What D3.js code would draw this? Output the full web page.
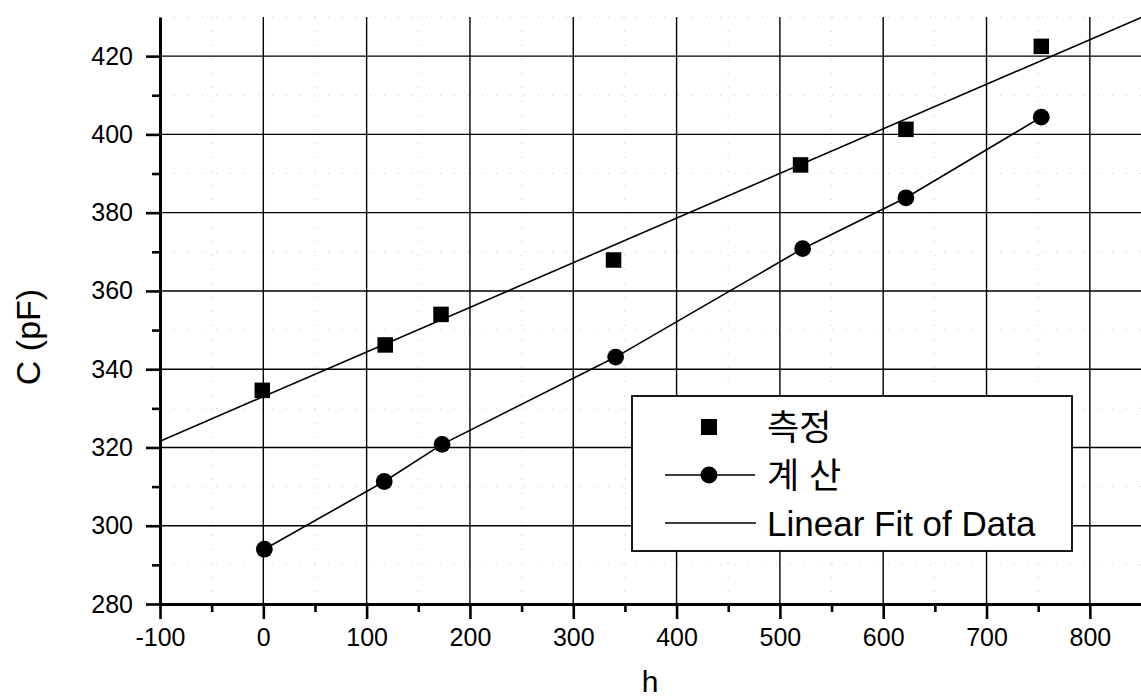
<!DOCTYPE html>
<html>
<head>
<meta charset="utf-8">
<script src="https://cdn.jsdelivr.net/npm/d3@7"></script>
<style>
  body { margin: 0; background: #fff; }
  svg text { font-family: "Liberation Sans", Arial, "Noto Sans CJK KR", sans-serif; fill: #000; }
</style>
</head>
<body>
<div id="chart"></div>
<script>
// Measured capacitance (측정)
const measuredH = [-1, 118, 172, 339, 520, 622, 753];
const measuredC = [334.6, 346.2, 354.0, 367.9, 392.2, 401.3, 422.5];

// Calculated capacitance (계산)
const calcH = [1, 117, 173, 341, 522, 622, 753];
const calcC = [294.0, 311.3, 320.8, 343.1, 370.8, 383.8, 404.4];

// Axis ticks
const xTicks = [-100, 0, 100, 200, 300, 400, 500, 600, 700, 800];
const xMinorTicks = [-50, 50, 150, 250, 350, 450, 550, 650, 750];
const yTicks = [280, 300, 320, 340, 360, 380, 400, 420];
const yMinorTicks = [290, 310, 330, 350, 370, 390, 410, 430];

const legendLabels = ["측정", "계 산", "Linear Fit of Data"];

const width = 1141;
const height = 700;

const svg = d3
  .select("#chart")
  .append("svg")
  .attr("width", width)
  .attr("height", height);

// Scales
const x = d3.scaleLinear().domain([-100, 850]).range([160, 1141.5]);
const y = d3.scaleLinear().domain([280, 430]).range([604, 17]);

// Faint dotted minor grid
svg
  .append("g")
  .selectAll("line")
  .data(xMinorTicks)
  .enter()
  .append("line")
  .attr("x1", (d) => x(d))
  .attr("x2", (d) => x(d))
  .attr("y1", y(430))
  .attr("y2", y(280))
  .attr("stroke", "#ccc")
  .attr("stroke-dasharray", "1,13");

svg
  .append("g")
  .selectAll("line")
  .data(yMinorTicks)
  .enter()
  .append("line")
  .attr("x1", x(-100))
  .attr("x2", x(850))
  .attr("y1", (d) => y(d))
  .attr("y2", (d) => y(d))
  .attr("stroke", "#ccc")
  .attr("stroke-dasharray", "1,13");

// Major grid
svg
  .append("g")
  .selectAll("line")
  .data(xTicks.slice(1))
  .enter()
  .append("line")
  .attr("x1", (d) => x(d))
  .attr("x2", (d) => x(d))
  .attr("y1", y(430))
  .attr("y2", y(280))
  .attr("stroke", "#000")
  .attr("stroke-width", 1.4);

svg
  .append("g")
  .selectAll("line")
  .data(yTicks.slice(1))
  .enter()
  .append("line")
  .attr("x1", x(-100))
  .attr("x2", x(850))
  .attr("y1", (d) => y(d))
  .attr("y2", (d) => y(d))
  .attr("stroke", "#000")
  .attr("stroke-width", 1.4);

// Least squares fit of measured data
function linearFit(xs, ys) {
  const mx = d3.mean(xs);
  const my = d3.mean(ys);
  let sxy = 0;
  let sxx = 0;
  xs.forEach((v, i) => {
    sxy += (v - mx) * (ys[i] - my);
    sxx += (v - mx) * (v - mx);
  });
  const slope = sxy / sxx;
  return { slope: slope, intercept: my - slope * mx };
}
const fit = linearFit(measuredH, measuredC);

svg
  .append("line")
  .attr("x1", x(-100))
  .attr("x2", x(850))
  .attr("y1", y(fit.intercept + fit.slope * -100))
  .attr("y2", y(fit.intercept + fit.slope * 850))
  .attr("stroke", "#000")
  .attr("stroke-width", 1.6);

// Calculated series: line + circles
const calcData = calcH.map((h, i) => ({ h: h, c: calcC[i] }));
svg
  .append("path")
  .datum(calcData)
  .attr("fill", "none")
  .attr("stroke", "#000")
  .attr("stroke-width", 1.6)
  .attr(
    "d",
    d3
      .line()
      .x((d) => x(d.h))
      .y((d) => y(d.c))
  );

svg
  .append("g")
  .selectAll("circle")
  .data(calcData)
  .enter()
  .append("circle")
  .attr("cx", (d) => x(d.h))
  .attr("cy", (d) => y(d.c))
  .attr("r", 8.4)
  .attr("fill", "#000");

// Measured series: squares
const measuredData = measuredH.map((h, i) => ({ h: h, c: measuredC[i] }));
const sq = 15.5;
svg
  .append("g")
  .selectAll("rect")
  .data(measuredData)
  .enter()
  .append("rect")
  .attr("x", (d) => x(d.h) - sq / 2)
  .attr("y", (d) => y(d.c) - sq / 2)
  .attr("width", sq)
  .attr("height", sq)
  .attr("fill", "#000");

// Axes
const yAxis = svg
  .append("g")
  .attr("transform", `translate(${x(-100)},0)`)
  .call(
    d3
      .axisLeft(y)
      .tickValues(yTicks)
      .tickFormat((d) => String(d))
      .tickSizeInner(14)
      .tickSizeOuter(0)
      .tickPadding(13)
  );
yAxis.select(".domain").attr("stroke-width", 3);
yAxis.selectAll(".tick line").attr("stroke-width", 2.6);
yAxis.selectAll(".tick text").attr("font-size", 25);

svg
  .append("g")
  .attr("transform", `translate(${x(-100)},0)`)
  .call(
    d3
      .axisLeft(y)
      .tickValues(yMinorTicks.filter((d) => d < 430))
      .tickSize(8)
      .tickFormat("")
  )
  .call((g) => g.select(".domain").remove())
  .selectAll(".tick line")
  .attr("stroke-width", 2.6);

const xAxis = svg
  .append("g")
  .attr("transform", `translate(0,${y(280)})`)
  .call(
    d3
      .axisBottom(x)
      .tickValues(xTicks)
      .tickFormat((d) => String(d))
      .tickSizeInner(15)
      .tickSizeOuter(0)
      .tickPadding(9)
  );
xAxis.select(".domain").attr("stroke-width", 3);
xAxis.selectAll(".tick line").attr("stroke-width", 2.6);
xAxis.selectAll(".tick text").attr("font-size", 25);

svg
  .append("g")
  .attr("transform", `translate(0,${y(280)})`)
  .call(d3.axisBottom(x).tickValues(xMinorTicks).tickSize(8).tickFormat(""))
  .call((g) => g.select(".domain").remove())
  .selectAll(".tick line")
  .attr("stroke-width", 2.6);

svg.selectAll(".tick text").attr("fill", "#000");

// Axis titles
svg
  .append("text")
  .attr("x", 650)
  .attr("y", 692)
  .attr("text-anchor", "middle")
  .attr("font-size", 30)
  .text("h");

svg
  .append("text")
  .attr("transform", "translate(40,337) rotate(-90)")
  .attr("text-anchor", "middle")
  .attr("font-size", 34)
  .text("C (pF)");

// Legend
const legend = svg.append("g");
legend
  .append("rect")
  .attr("x", 632)
  .attr("y", 396)
  .attr("width", 440)
  .attr("height", 155)
  .attr("fill", "#fff")
  .attr("stroke", "#000")
  .attr("stroke-width", 1.8);

const rowY = [427, 475, 523];

legend
  .append("rect")
  .attr("x", 709 - 8)
  .attr("y", rowY[0] - 8)
  .attr("width", 16)
  .attr("height", 16)
  .attr("fill", "#000");

legend
  .append("line")
  .attr("x1", 665)
  .attr("x2", 755)
  .attr("y1", rowY[1])
  .attr("y2", rowY[1])
  .attr("stroke", "#000")
  .attr("stroke-width", 1.6);
legend
  .append("circle")
  .attr("cx", 709)
  .attr("cy", rowY[1])
  .attr("r", 8.5)
  .attr("fill", "#000");

legend
  .append("line")
  .attr("x1", 665)
  .attr("x2", 756)
  .attr("y1", rowY[2])
  .attr("y2", rowY[2])
  .attr("stroke", "#000")
  .attr("stroke-width", 1.6);

legend
  .selectAll(".legend-label")
  .data(legendLabels)
  .enter()
  .append("text")
  .attr("class", "legend-label")
  .attr("x", 767)
  .attr("y", (d, i) => rowY[i])
  .attr("dominant-baseline", "central")
  .attr("font-size", 35)
  .text((d) => d);
</script>
</body>
</html>
